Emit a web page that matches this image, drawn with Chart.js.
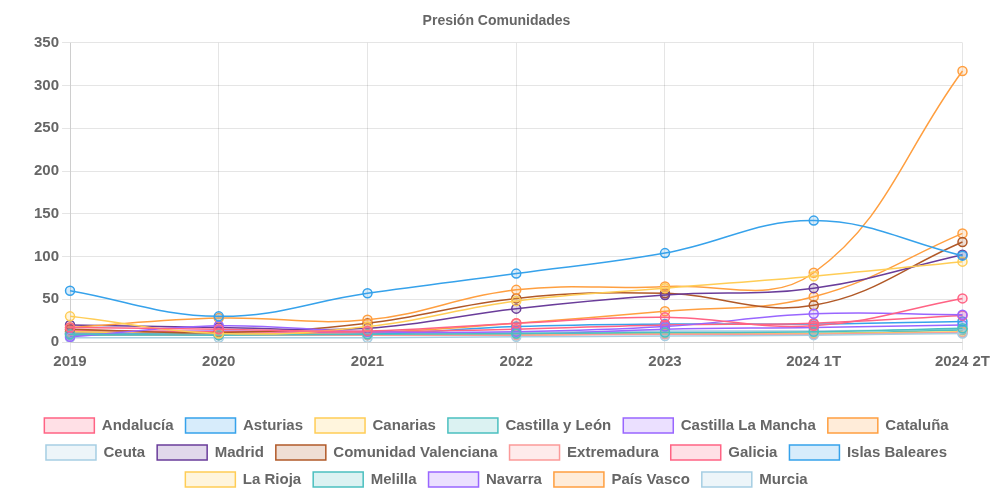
<!DOCTYPE html>
<html>
<head>
<meta charset="utf-8">
<script src="https://cdn.jsdelivr.net/npm/chart.js@4"></script>
<style>
    body { margin: 0; background: #fff; }
    .wrap { width: 993px; height: 500px; }
</style>
</head>
<body>
<div class="wrap"><canvas id="presion"></canvas></div>
<script>
const labels = ["2019", "2020", "2021", "2022", "2023", "2024 1T", "2024 2T"];

const regiones = ["Andalucía", "Asturias", "Canarias", "Castilla y León", "Castilla La Mancha", "Cataluña",
    "Ceuta", "Madrid", "Comunidad Valenciana", "Extremadura", "Galicia", "Islas Baleares",
    "La Rioja", "Melilla", "Navarra", "País Vasco", "Murcia"];

const andalucia   = [17, 15, 13, 22, 29, 19, 51];
const asturias    = [60, 30, 57, 80, 104, 142, 101];
const canarias    = [30, 10, 18, 48, 63, 77, 94];
const castillaLeon = [9, 8, 9, 10, 11, 12, 16];
const castillaMancha = [6, 19, 12, 12, 18, 33, 32];
const cataluna    = [17, 28, 26, 61, 65, 81, 317];
const ceuta       = [5, 5, 5, 6, 7, 8, 10];
const madrid      = [20, 17, 16, 39, 55, 63, 102];
const valenciana  = [15, 11, 22, 51, 57, 43, 117];
const extremadura = [9, 8, 8, 8, 9, 9, 11];
const galicia     = [14, 12, 12, 15, 20, 22, 31];
const baleares    = [10, 9, 9, 18, 21, 21, 24];
const rioja       = [12, 9, 9, 8, 10, 10, 12];
const melilla     = [8, 8, 8, 9, 10, 10, 14];
const navarra     = [10, 13, 10, 9, 15, 17, 20];
const paisVasco   = [12, 10, 11, 22, 36, 53, 127];
const murcia      = [12, 10, 10, 11, 13, 13, 15];

const series = [andalucia, asturias, canarias, castillaLeon, castillaMancha, cataluna,
    ceuta, madrid, valenciana, extremadura, galicia, baleares,
    rioja, melilla, navarra, paisVasco, murcia];

// rgb triplets, same order as regiones
const colores = ["255,99,132", "54,162,235", "255,205,86", "75,192,192", "153,102,255", "255,159,64",
    "166,206,227", "106,61,154", "177,89,40", "251,154,153", "255,99,132", "54,162,235",
    "255,205,86", "75,192,192", "153,102,255", "255,159,64", "166,206,227"];

const datasets = regiones.map((nombre, i) => ({
    label: nombre,
    data: series[i],
    borderColor: "rgb(" + colores[i] + ")",
    backgroundColor: "rgba(" + colores[i] + ",0.2)",
    borderWidth: 1.5,
    pointRadius: 4.5,
    pointBorderWidth: 1.5,
    tension: 0.4,
    fill: false
}));

Chart.defaults.font.family = "'Liberation Sans', Arial, sans-serif";
Chart.defaults.color = "#666";

new Chart(document.querySelector("#presion"), {
    type: "line",
    data: { labels: labels, datasets: datasets },
    options: {
        responsive: true,
        maintainAspectRatio: false,
        animation: false,
        layout: { padding: { top: 0, bottom: 3 } },
        plugins: {
            title: {
                display: true,
                text: "Presión Comunidades",
                font: { size: 14, weight: "bold" },
                padding: { top: 13, bottom: 13 }
            },
            legend: {
                position: "bottom",
                labels: {
                    boxWidth: 50,
                    boxHeight: 15,
                    padding: 12,
                    font: { size: 15, weight: "bold" }
                }
            }
        },
        scales: {
            y: {
                min: 0,
                max: 350,
                ticks: { stepSize: 50, font: { size: 15, weight: "bold" } },
                afterFit: (scale) => { scale.width += 31; }
            },
            x: {
                ticks: { font: { size: 15, weight: "bold" } },
                afterFit: (scale) => { scale.height += 32; }
            }
        }
    }
});
</script>
</body>
</html>
